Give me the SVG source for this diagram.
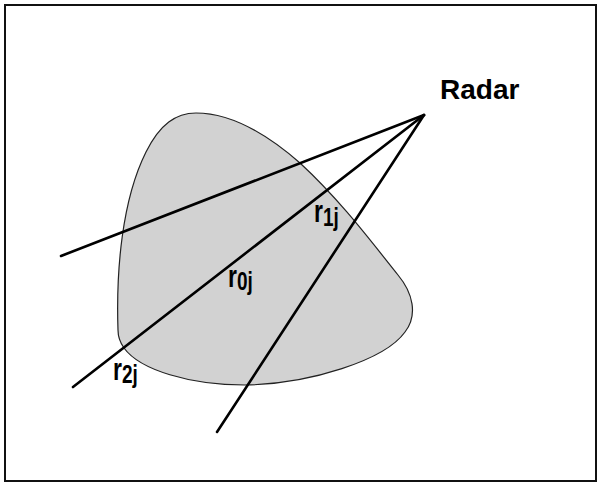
<svg xmlns="http://www.w3.org/2000/svg" width="600" height="485" viewBox="0 0 600 485">
  <style>
    .frame { fill: #ffffff; stroke: #111111; stroke-width: 2; }
    .region { fill: #d2d2d2; stroke: #222222; stroke-width: 1.2; }
    .ray { stroke: #000000; stroke-width: 2.6; stroke-linecap: round; fill: none; }
    .title { font-family: "Liberation Sans", Arial, sans-serif; font-weight: bold; font-size: 28px; fill: #000000; }
    .lbl { font-family: "Liberation Sans", Arial, sans-serif; font-weight: bold; font-size: 23px; fill: #000000; }
    .sub { font-size: 19px; }
  </style>
  <rect class="frame" x="5" y="5" width="591" height="476"/>

  <g id="region">
    <path class="region" d="M 118 330 C 116 270, 122 200, 146 152 C 160 124, 176 113, 196 113 C 232 113, 268 135, 300 163 C 340 200, 370 240, 398 275 C 413 293, 418 315, 405 332 C 385 360, 310 384, 245 385 C 190 385, 140 370, 124 348 C 119 341, 118 336, 118 330 Z"/>
  </g>

  <g id="connectors">
    <line class="ray" x1="424" y1="115" x2="61" y2="256"/>
    <line class="ray" x1="424" y1="115" x2="73" y2="387"/>
    <line class="ray" x1="424" y1="115" x2="217" y2="432"/>
  </g>

  <g id="radar">
    <text class="title" x="440" y="99">Radar</text>
  </g>

  <g id="label-r1j" transform="translate(314,222) scale(1,1.4)">
    <text class="lbl" x="0" y="0">r<tspan class="sub" dy="3">1j</tspan></text>
  </g>
  <g id="label-r0j" transform="translate(228,287) scale(1,1.4)">
    <text class="lbl" x="0" y="0">r<tspan class="sub" dy="2">0j</tspan></text>
  </g>
  <g id="label-r2j" transform="translate(113,380) scale(1,1.4)">
    <text class="lbl" x="0" y="0">r<tspan class="sub" dy="2">2j</tspan></text>
  </g>
</svg>
